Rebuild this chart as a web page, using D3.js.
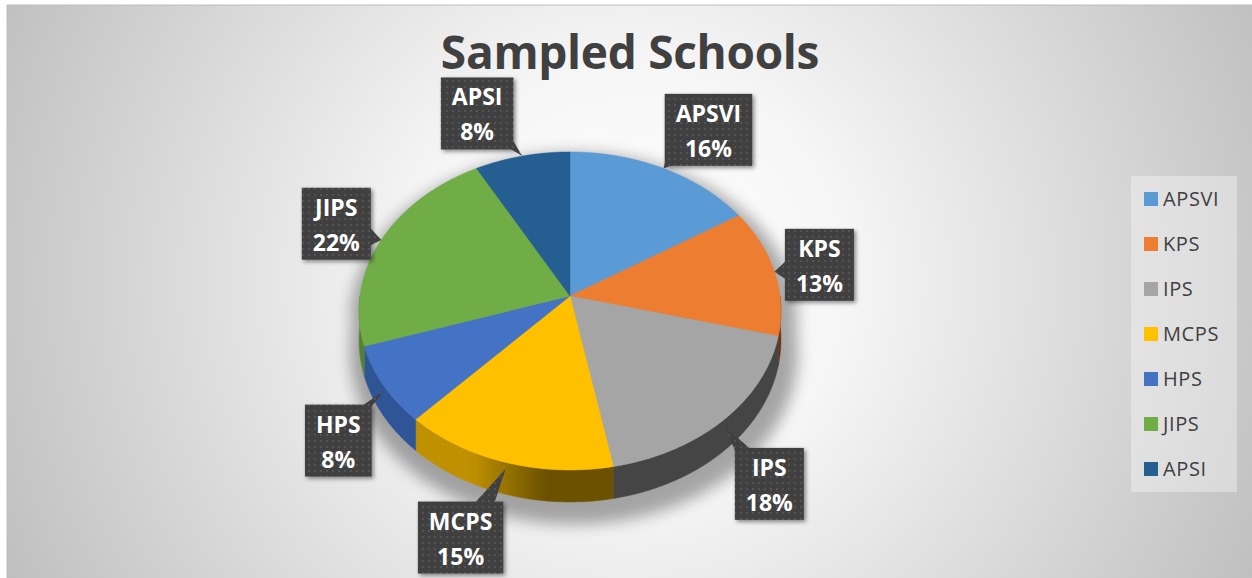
<!DOCTYPE html>
<html>
<head>
<meta charset="utf-8">
<script src="https://cdn.jsdelivr.net/npm/d3@7"></script>
<style>
  body { margin: 0; background: #fff; }
  svg { display: block; }
</style>
</head>
<body>
<svg id="chart" width="1252" height="578"></svg>
<script>
var categories = ["APSVI", "KPS", "IPS", "MCPS", "HPS", "JIPS", "APSI"];
var values = [16, 13, 18, 15, 8, 22, 8];
var colors = ["#5b9bd5", "#ed7d31", "#a5a5a5", "#ffc000", "#4472c4", "#70ad47", "#255e91"];
var title = "Sampled Schools";

var svg = d3.select("#chart"),
    width = +svg.attr("width"),
    height = +svg.attr("height");

var defs = svg.append("defs");

// background gradient
var bg = defs.append("radialGradient").attr("id", "bg")
  .attr("gradientUnits", "userSpaceOnUse")
  .attr("cx", 630).attr("cy", 280).attr("r", 720);
bg.append("stop").attr("offset", 0).attr("stop-color", "#ffffff");
bg.append("stop").attr("offset", 0.3).attr("stop-color", "#f6f6f6");
bg.append("stop").attr("offset", 1).attr("stop-color", "#bcbcbc");

// dotted pattern for label boxes
var pat = defs.append("pattern").attr("id", "dots")
  .attr("patternUnits", "userSpaceOnUse").attr("width", 6).attr("height", 6);
pat.append("rect").attr("width", 6).attr("height", 6).attr("fill", "#404040");
pat.append("circle").attr("cx", 3).attr("cy", 3).attr("r", 0.9).attr("fill", "#5c5c5c");

var blur = defs.append("filter").attr("id", "blur")
  .attr("x", "-20%").attr("y", "-20%").attr("width", "140%").attr("height", "140%");
blur.append("feGaussianBlur").attr("stdDeviation", 7);

var drop = defs.append("filter").attr("id", "drop")
  .attr("x", "-20%").attr("y", "-20%").attr("width", "140%").attr("height", "140%");
drop.append("feDropShadow").attr("dx", 2).attr("dy", 2).attr("stdDeviation", 2)
  .attr("flood-color", "#000").attr("flood-opacity", 0.45);

svg.append("rect")
  .attr("x", 7).attr("y", 5).attr("width", 1270).attr("height", 600)
  .attr("fill", "url(#bg)").attr("stroke", "#bdbdbd");

svg.append("text")
  .attr("x", 630).attr("y", 69)
  .attr("text-anchor", "middle")
  .attr("font-family", "Open Sans")
  .attr("font-weight", "bold")
  .attr("font-size", 46)
  .attr("letter-spacing", -0.3)
  .attr("fill", "#404040")
  .text(title);

// 3D pie projection
var cx = 570, cy = 296, RX = 210, RY = 157.6, P = 0.094, DEPTH = 29;

function proj(a, r, h) {
  var X = r * Math.sin(a), Z = r * Math.cos(a);
  var k = 1 / (1 + P * Z);
  return [cx + RX * X * k, cy - RY * Z * k + h * k];
}

function arcPoints(a0, a1, h) {
  var n = Math.max(2, Math.ceil((a1 - a0) / (Math.PI / 360)));
  return d3.range(n + 1).map(function(i) { return proj(a0 + (a1 - a0) * i / n, 1, h); });
}

function shade(c, a) {
  var deg = a * 180 / Math.PI;
  var f = deg >= 205 ? 0.75 : deg <= 186 ? 0.42 : 0.42 + (deg - 186) / 19 * 0.33;
  var hc = d3.hsl(c);
  hc.l = hc.l * f;
  return hc.formatHex();
}

var pie = d3.pie().sort(null).value(function(d) { return d; });
var arcs = pie(values);
var line = d3.line();

var pieG = svg.append("g");

// shadow
var outline = arcPoints(0, Math.PI / 2, 0)
  .concat(arcPoints(Math.PI / 2, 3 * Math.PI / 2, DEPTH))
  .concat(arcPoints(3 * Math.PI / 2, 2 * Math.PI, 0));
pieG.append("path")
  .attr("d", line(outline) + "Z")
  .attr("transform", "translate(" + (cx + 4) + "," + (cy + 10) + ") scale(1.06) translate(" + (-cx) + "," + (-cy) + ")")
  .attr("fill", "#000").attr("opacity", 0.33)
  .attr("filter", "url(#blur)");

// sides
arcs.forEach(function(d, i) {
  var a0 = Math.max(d.startAngle, Math.PI / 2),
      a1 = Math.min(d.endAngle, 3 * Math.PI / 2);
  if (a0 >= a1) return;
  var xa = proj(a0, 1, 0)[0], xb = proj(a1, 1, 0)[0];
  var g = defs.append("linearGradient").attr("id", "side" + i)
    .attr("gradientUnits", "userSpaceOnUse")
    .attr("x1", xa).attr("y1", 0).attr("x2", xb).attr("y2", 0);
  d3.range(21).forEach(function(j) {
    var a = a0 + (a1 - a0) * j / 20;
    var off = (proj(a, 1, 0)[0] - xa) / (xb - xa);
    g.append("stop").attr("offset", Math.max(0, Math.min(1, off)))
      .attr("stop-color", shade(colors[i], a));
  });
  var pts = arcPoints(a0, a1, 0).concat(arcPoints(a0, a1, DEPTH).reverse());
  pieG.append("path")
    .attr("d", line(pts) + "Z")
    .attr("fill", "url(#side" + i + ")")
    .attr("stroke", "url(#side" + i + ")").attr("stroke-width", 0.5);
});

// tops
arcs.forEach(function(d, i) {
  var pts = [[cx, cy]].concat(arcPoints(d.startAngle, d.endAngle, 0));
  pieG.append("path")
    .attr("d", line(pts) + "Z")
    .attr("fill", colors[i])
    .attr("stroke", colors[i]).attr("stroke-width", 0.5);
});

// data labels (callouts)
var total = d3.sum(values);
var labG = svg.append("g");
arcs.forEach(function(d, i) {
  var mid = (d.startAngle + d.endAngle) / 2;
  var X = Math.sin(mid), Z = Math.cos(mid);
  var e = proj(mid, 1, 0);
  var bx = e[0] + (X >= 0 ? 45 : -45);
  var by = Z > 0 ? e[1] - 44 * Z : e[1] + DEPTH * 1.07 + 46 * (-Z);
  var tip = proj(mid, 1, Z < 0 ? 6 : 0);

  var g = labG.append("g");
  var t1 = g.append("text").attr("x", bx).attr("y", by - 8)
    .attr("text-anchor", "middle").attr("font-family", "Open Sans")
    .attr("font-weight", "bold").attr("font-size", 23).attr("fill", "#fff")
    .text(categories[i]);
  var t2 = g.append("text").attr("x", bx).attr("y", by + 27)
    .attr("text-anchor", "middle").attr("font-family", "Open Sans")
    .attr("font-weight", "bold").attr("font-size", 23).attr("fill", "#fff")
    .text(Math.round(values[i] / total * 100) + "%");
  var tw = Math.max(t1.node().getComputedTextLength(), t2.node().getComputedTextLength());
  var hw = tw / 2 + 11, hh = 36;

  // pointer
  var dx = tip[0] - bx, dy = tip[1] - by;
  var tx = Math.abs(dx) > 0 ? hw / Math.abs(dx) : Infinity,
      ty = Math.abs(dy) > 0 ? hh / Math.abs(dy) : Infinity;
  var t = Math.min(tx, ty);
  var px = bx + dx * t, py = by + dy * t;
  var b1, b2;
  if (tx < ty) {
    b1 = [px, Math.max(by - hh, py - 10)]; b2 = [px, Math.min(by + hh, py + 10)];
    b1[0] -= dx > 0 ? 2 : -2; b2[0] -= dx > 0 ? 2 : -2;
  } else {
    b1 = [Math.max(bx - hw, px - 10), py]; b2 = [Math.min(bx + hw, px + 10), py];
    b1[1] -= dy > 0 ? 2 : -2; b2[1] -= dy > 0 ? 2 : -2;
  }
  g.insert("path", "text")
    .attr("d", line([tip, b1, b2]) + "Z")
    .attr("fill", "url(#dots)");
  g.insert("rect", "path")
    .attr("x", bx - hw).attr("y", by - hh).attr("width", hw * 2).attr("height", hh * 2)
    .attr("fill", "url(#dots)")
    .attr("filter", "url(#drop)");
});

// legend
var legX = 1131, legY = 176;
svg.append("rect")
  .attr("x", legX).attr("y", legY).attr("width", 106).attr("height", 316)
  .attr("fill", "#ffffff").attr("opacity", 0.35);
var leg = svg.append("g").selectAll("g").data(categories).enter().append("g")
  .attr("transform", function(d, i) { return "translate(" + (legX + 13) + "," + (legY + 16 + i * 45) + ")"; });
leg.append("rect").attr("width", 14).attr("height", 14)
  .attr("fill", function(d, i) { return colors[i]; });
leg.append("text").attr("x", 19).attr("y", 14)
  .attr("font-family", "Open Sans").attr("font-size", 20).attr("letter-spacing", 0.6)
  .attr("fill", "#404040")
  .text(function(d) { return d; });
</script>
</body>
</html>
